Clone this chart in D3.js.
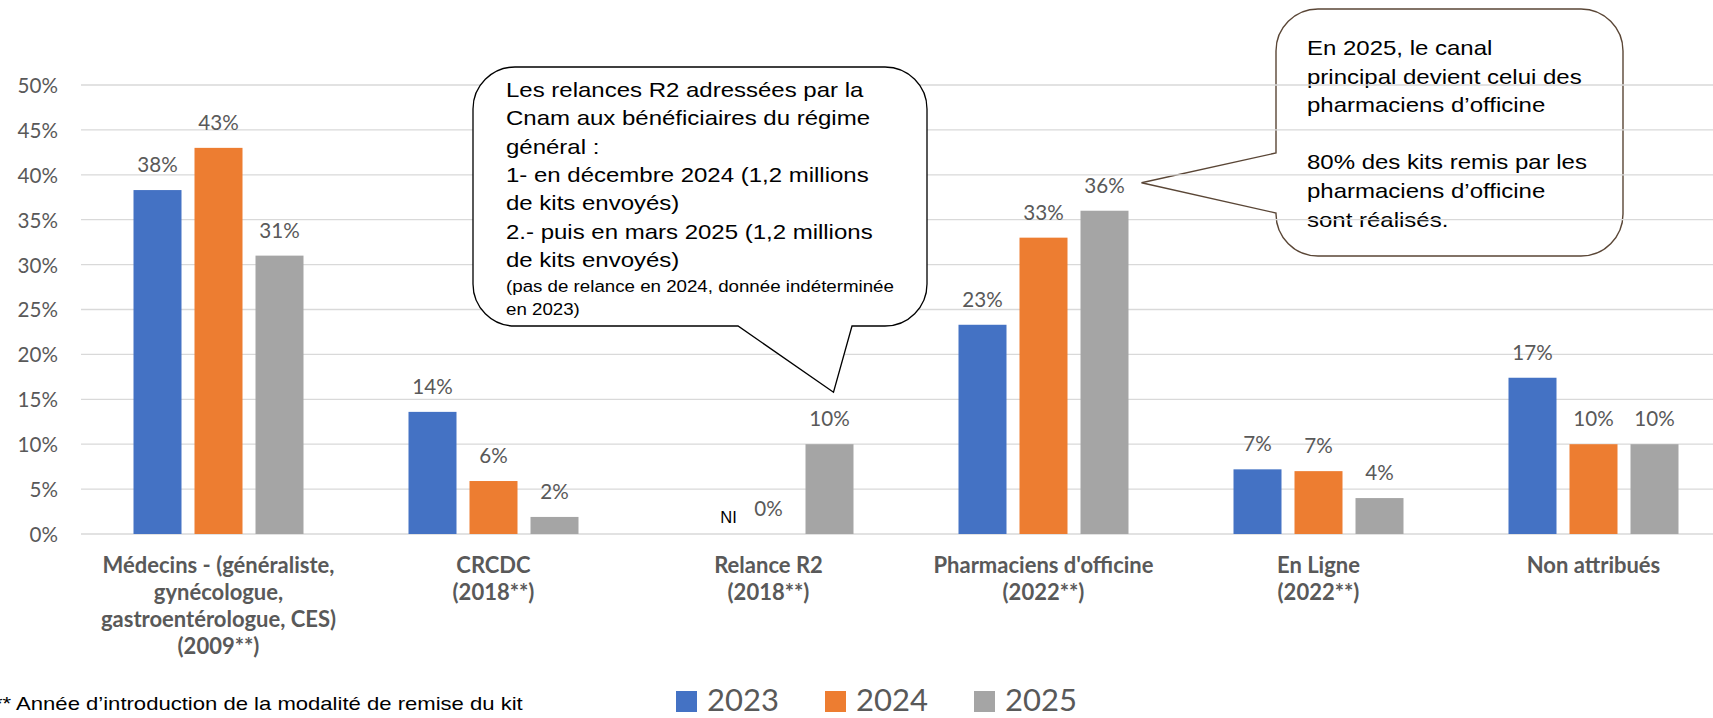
<!DOCTYPE html>
<html>
<head>
<meta charset="utf-8">
<script src="https://cdn.jsdelivr.net/npm/d3@7"></script>
<style>
  html, body { margin: 0; padding: 0; background: #fff; }
  svg { display: block; }
</style>
</head>
<body>
<svg id="chart" width="1713" height="718"></svg>
<script>
// Channels for handing out the screening kit, share of kits per channel
const categories = ["Médecins", "CRCDC", "Relance R2", "Pharmaciens d'officine", "En Ligne", "Non attribués"];
const categoryLines = [
  ["Médecins - (généraliste,", "gynécologue,", "gastroentérologue, CES)", "(2009**)"],
  ["CRCDC", "(2018**)"],
  ["Relance R2", "(2018**)"],
  ["Pharmaciens d'officine", "(2022**)"],
  ["En Ligne", "(2022**)"],
  ["Non attribués"]
];
const years = ["2023", "2024", "2025"];
const values2023 = [0.383, 0.136, null, 0.233, 0.072, 0.174];
const values2024 = [0.430, 0.059, 0.000, 0.330, 0.070, 0.100];
const values2025 = [0.310, 0.019, 0.100, 0.360, 0.040, 0.100];
const yTicks = [0, 0.05, 0.10, 0.15, 0.20, 0.25, 0.30, 0.35, 0.40, 0.45, 0.50];
const missingLabel = "NI";
const footnote = "** Année d’introduction de la modalité de remise du kit";
const noteR2 = [
  "Les relances R2 adressées par la",
  "Cnam aux bénéficiaires du régime",
  "général :",
  "1- en décembre 2024 (1,2 millions",
  "de kits envoyés)",
  "2.- puis en mars 2025 (1,2 millions",
  "de kits envoyés)"
];
const noteR2Small = [
  "(pas de relance en 2024, donnée indéterminée",
  "en 2023)"
];
const notePharma = [
  "En 2025, le canal",
  "principal devient celui des",
  "pharmaciens d’officine",
  "",
  "80% des kits remis par les",
  "pharmaciens d’officine",
  "sont réalisés."
];

const seriesValues = [values2023, values2024, values2025];
const colors = ["#4472C4", "#ED7D31", "#A5A5A5"];
const textGrey = "#595959";
const calibriLike = "Lato, 'Open Sans', sans-serif";
const arialLike = "'Liberation Sans', Arial, sans-serif";

const svg = d3.select("#chart");

const plot = { left: 81, right: 1731, top: 85, bottom: 534 };

const x = d3.scaleBand().domain(categories).range([plot.left, plot.right]);
const xSub = d3.scaleBand().domain(years)
  .range([52.5, x.bandwidth() - 52.5])
  .paddingInner(13 / 61);
const y = d3.scaleLinear().domain([0, 0.5]).range([plot.bottom, plot.top]);
const pct = d3.format(".0%");

// Rounded speech-bubble outline, tail on the bottom or the left edge
function bubble(x0, y0, x1, y1, r, tail) {
  const p = d3.path();
  p.moveTo(x0 + r, y0);
  p.lineTo(x1 - r, y0);
  p.arcTo(x1, y0, x1, y0 + r, r);
  p.lineTo(x1, y1 - r);
  p.arcTo(x1, y1, x1 - r, y1, r);
  if (tail.side === "bottom") {
    p.lineTo(tail.b, y1);
    p.lineTo(tail.tx, tail.ty);
    p.lineTo(tail.a, y1);
  }
  p.lineTo(x0 + r, y1);
  p.arcTo(x0, y1, x0, y1 - r, r);
  if (tail.side === "left") {
    p.lineTo(x0, tail.b);
    p.lineTo(tail.tx, tail.ty);
    p.lineTo(x0, tail.a);
  }
  p.lineTo(x0, y0 + r);
  p.arcTo(x0, y0, x0 + r, y0, r);
  p.closePath();
  return p.toString();
}

// Stretched Arial-style text block
function textBlock(g, lines, left, firstBaseline, lineStep, size) {
  lines.forEach((t, i) => {
    const by = firstBaseline + i * lineStep;
    g.append("text")
      .attr("transform", `translate(${left},${by}) scale(1.2,1)`)
      .attr("font-family", arialLike)
      .attr("font-size", size)
      .attr("fill", "#000")
      .text(t);
  });
}

// Pharmacy note: transparent bubble sitting behind the grid
const pharmaX = x("Pharmaciens d'officine");
const pharmaLabelRight = pharmaX + xSub("2025") + xSub.bandwidth();
const g2 = svg.append("g");
g2.append("path")
  .attr("d", bubble(1276, 9, 1623, 256, 42,
    { side: "left", a: 153, b: 213, tx: pharmaLabelRight + 13, ty: y(0.36) - 28 }))
  .attr("fill", "none")
  .attr("stroke", "#5a4636")
  .attr("stroke-width", 1.4);
textBlock(g2, notePharma, 1307, 55, 28.6, 20);

// Grid lines
svg.append("g")
  .selectAll("line")
  .data(yTicks)
  .join("line")
  .attr("x1", plot.left)
  .attr("x2", plot.right)
  .attr("y1", d => y(d))
  .attr("y2", d => y(d))
  .attr("stroke", "#d9d9d9")
  .attr("stroke-width", 1.3);

// Y axis labels
const yAxis = d3.axisLeft(y).tickValues(yTicks).tickFormat(pct).tickSize(0).tickPadding(0);
const yg = svg.append("g").attr("transform", `translate(58,0)`).call(yAxis);
yg.select(".domain").remove();
yg.selectAll("text")
  .attr("font-family", calibriLike)
  .attr("font-size", 20.6)
  .attr("fill", textGrey)
  .attr("dy", "0.36em");

// Bars
const groups = svg.append("g")
  .selectAll("g")
  .data(categories)
  .join("g")
  .attr("transform", d => `translate(${x(d)},0)`);

groups.each(function (cat, ci) {
  const g = d3.select(this);
  years.forEach((yr, si) => {
    const v = seriesValues[si][ci];
    if (v === null) return;
    g.append("rect")
      .attr("x", xSub(yr))
      .attr("y", y(v))
      .attr("width", xSub.bandwidth())
      .attr("height", y(0) - y(v))
      .attr("fill", colors[si]);
    g.append("text")
      .attr("x", xSub(yr) + xSub.bandwidth() / 2)
      .attr("y", y(v) - 18)
      .attr("text-anchor", "middle")
      .attr("font-family", calibriLike)
      .attr("font-size", 20.6)
      .attr("fill", textGrey)
      .text(pct(v));
  });
});

// Missing 2023 value for the R2 reminder
svg.append("text")
  .attr("x", x("Relance R2") + xSub("2023") + xSub.bandwidth() / 2 + 21)
  .attr("y", y(0) - 11)
  .attr("text-anchor", "middle")
  .attr("font-family", arialLike)
  .attr("font-size", 16.5)
  .attr("fill", "#000")
  .text(missingLabel);

// Category labels
const catG = svg.append("g");
categories.forEach((c, i) => {
  const t = catG.append("text")
    .attr("text-anchor", "middle")
    .attr("font-family", calibriLike)
    .attr("font-weight", 700)
    .attr("font-size", 22)
    .attr("fill", textGrey);
  categoryLines[i].forEach((line, j) => {
    t.append("tspan")
      .attr("x", x(c) + x.bandwidth() / 2)
      .attr("y", 573 + j * 27)
      .text(line);
  });
});

// R2 note: white bubble above the grid
const r2X = x("Relance R2");
const g1 = svg.append("g");
g1.append("path")
  .attr("d", bubble(473, 67, 927, 326, 42,
    { side: "bottom", a: 738, b: 852, tx: r2X + xSub("2025") + xSub.bandwidth() / 2 + 4, ty: y(0.10) - 52 }))
  .attr("fill", "#fff")
  .attr("stroke", "#000")
  .attr("stroke-width", 1.3);
textBlock(g1, noteR2, 506, 97, 28.3, 20);
textBlock(g1, noteR2Small, 506, 292, 23, 15.6);

// Legend
const legend = svg.append("g");
const legendX = [676, 825, 974];
years.forEach((yr, i) => {
  legend.append("rect")
    .attr("x", legendX[i])
    .attr("y", 691)
    .attr("width", 21)
    .attr("height", 21)
    .attr("fill", colors[i]);
  legend.append("text")
    .attr("x", legendX[i] + 31)
    .attr("y", 711)
    .attr("font-family", calibriLike)
    .attr("font-size", 31)
    .attr("fill", textGrey)
    .text(yr);
});

// Footnote
svg.append("text")
  .attr("transform", "translate(-6,710) scale(1.2,1)")
  .attr("font-family", arialLike)
  .attr("font-size", 18.4)
  .attr("fill", "#000")
  .text(footnote);
</script>
</body>
</html>
